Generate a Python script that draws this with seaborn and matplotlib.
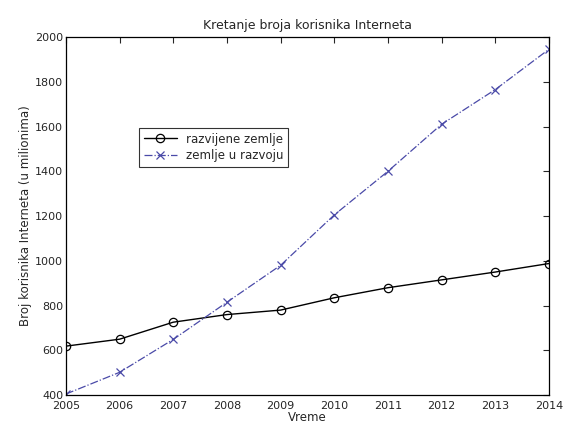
import matplotlib
matplotlib.use("Agg")
import matplotlib.pyplot as plt
import seaborn as sns
import pandas as pd

years = [2005, 2006, 2007, 2008, 2009, 2010, 2011, 2012, 2013, 2014]
razvijene = [619, 650, 726, 760, 780, 835, 880, 915, 950, 988]
razvoju = [405, 502, 649, 815, 980, 1205, 1400, 1610, 1765, 1945]
yticks = [400, 600, 800, 1000, 1200, 1400, 1600, 1800, 2000]

sns.set_style("white")
plt.rcParams['font.family'] = ['DejaVu Sans']

df = pd.DataFrame({"Vreme": years, "razvijene zemlje": razvijene, "zemlje u razvoju": razvoju})

fig = plt.figure(figsize=(5.63, 4.30), dpi=100)
ax = fig.add_axes([0.117, 0.081, 0.858, 0.833])

sns.lineplot(data=df, x="Vreme", y="razvijene zemlje", ax=ax, color="black", linewidth=1.0,
             marker="o", markersize=6, markerfacecolor="none", markeredgecolor="black",
             markeredgewidth=0.9, label="razvijene zemlje")
sns.lineplot(data=df, x="Vreme", y="zemlje u razvoju", ax=ax, color="#4a4aa8", linewidth=0.9,
             linestyle="-.", marker="x", markersize=5.5, markeredgewidth=0.9,
             markeredgecolor="#4a4aa8", label="zemlje u razvoju")

ax.set_xlim(2005, 2014)
ax.set_ylim(400, 2000)
ax.set_xticks(years)
ax.set_xticklabels([str(y) for y in years], fontsize=8)
ax.set_yticks(yticks)
ax.set_yticklabels([str(t) for t in yticks], fontsize=8)
ax.tick_params(direction="in", length=4, width=0.8, top=True, right=True)
ax.tick_params(axis="x", pad=4)
ax.tick_params(axis="y", pad=2)
for s in ax.spines.values():
    s.set_visible(True)
    s.set_color("black")
    s.set_linewidth(0.9)
ax.grid(False)

ax.set_title("Kretanje broja korisnika Interneta", fontsize=9, pad=6)
ax.set_xlabel("Vreme", fontsize=8.5, labelpad=0)
ax.set_ylabel("Broj korisnika Interneta (u milionima)", fontsize=8.5, labelpad=2)

leg = ax.legend(loc="upper left", bbox_to_anchor=(133/563, 1 - 122/430), bbox_transform=fig.transFigure,
                fontsize=8.5, frameon=True, fancybox=False, edgecolor="black", borderpad=0.4,
                handlelength=2.8, labelspacing=0.3)
leg.get_frame().set_linewidth(0.8)

fig.savefig("out.png", dpi=100)
